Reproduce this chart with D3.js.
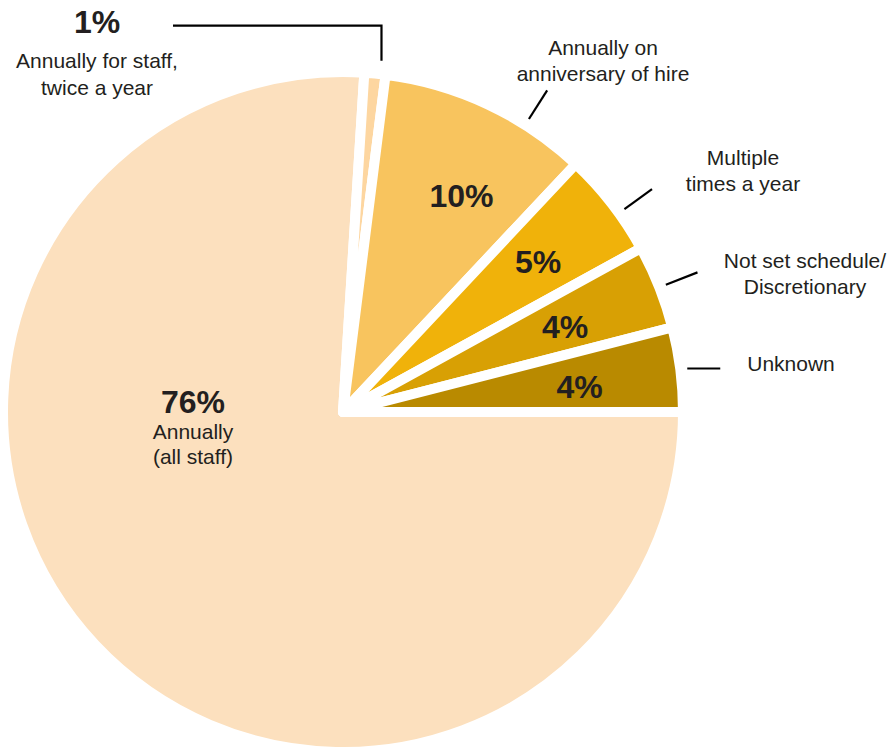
<!DOCTYPE html>
<html>
<head>
<meta charset="utf-8">
<script src="https://cdn.jsdelivr.net/npm/d3@7"></script>
<style>
  html, body { margin: 0; padding: 0; background: #fff; }
  svg { display: block; }
  text { font-family: "Liberation Sans", Arial, sans-serif; fill: #231f20; }
</style>
</head>
<body>
<svg id="chart" width="888" height="747"></svg>
<script>
// Review schedule shares, in percent (clockwise from 3 o'clock)
const categories = [
  "Annually (all staff)",
  "Annually for staff, twice a year",
  "Annually on anniversary of hire",
  "Multiple times a year",
  "Not set schedule/ Discretionary",
  "Unknown"
];
const values = [76, 1, 10, 5, 4, 4];
const valueLabels = ["76%", "1%", "10%", "5%", "4%", "4%"];
const nameLines = [
  ["Annually", "(all staff)"],
  ["Annually for staff,", "twice a year"],
  ["Annually on", "anniversary of hire"],
  ["Multiple", "times a year"],
  ["Not set schedule/", "Discretionary"],
  ["Unknown"]
];
const colors = ["#fce0be", "#fdd6a0", "#f8c45e", "#f0b20a", "#d8a004", "#b98a00"];

const svg = d3.select("#chart");
const cx = 343, cy = 412, R = 340;
const nameSize = 21;

const pie = d3.pie()
  .sort(null)
  .value(d => d)
  .startAngle(Math.PI / 2)
  .endAngle(Math.PI / 2 + 2 * Math.PI);

const arcs = pie(values);
const arc = d3.arc().innerRadius(0).outerRadius(R);

const g = svg.append("g").attr("transform", `translate(${cx},${cy})`);

g.selectAll("path.slice")
  .data(arcs)
  .join("path")
  .attr("class", "slice")
  .attr("d", arc)
  .attr("fill", (d, i) => colors[i])
  .attr("stroke", "#fff")
  .attr("stroke-width", 10)
  .attr("stroke-linejoin", "round");

// polar helper (angle in radians, 0 = 12 o'clock, clockwise)
const polar = (a, r) => [Math.sin(a) * r, -Math.cos(a) * r];
const deg = Math.PI / 180;

// value labels inside the small wedges: [index, angle offset (deg), radius]
const innerLayout = [[2, 3.6, 246], [3, 0.3, 246], [4, 0.6, 238], [5, 1.1, 238]];
innerLayout.forEach(([i, off, r]) => {
  const a = (arcs[i].startAngle + arcs[i].endAngle) / 2 + off * deg;
  const [x, y] = polar(a, r);
  g.append("text")
    .attr("x", x).attr("y", y + 11)
    .attr("text-anchor", "middle")
    .attr("font-size", 32).attr("font-weight", "bold")
    .text(valueLabels[i]);
});

// big slice label
const big = svg.append("g").attr("transform", "translate(193,0)");
big.append("text").attr("y", 413).attr("text-anchor", "middle")
  .attr("font-size", 32).attr("font-weight", "bold").text(valueLabels[0]);
nameLines[0].forEach((t, k) => {
  big.append("text").attr("y", 438.5 + k * 25).attr("text-anchor", "middle")
    .attr("font-size", nameSize).text(t);
});

// outside labels with radial leader lines: [index, leader angle (deg), label x, first baseline]
const outerLayout = [
  [2, 32.4, 603, 55],
  [3, 54.2, 743, 165],
  [4, 68.5, 805, 268],
];
const leader = g.append("g").attr("stroke", "#000").attr("stroke-width", 2.2).attr("fill", "none");
outerLayout.forEach(([i, a, lx, ly]) => {
  const p0 = polar(a * deg, 347), p1 = polar(a * deg, 381);
  leader.append("line").attr("x1", p0[0]).attr("y1", p0[1]).attr("x2", p1[0]).attr("y2", p1[1]);
  nameLines[i].forEach((t, k) => {
    svg.append("text").attr("x", lx).attr("y", ly + k * 25.5)
      .attr("text-anchor", "middle").attr("font-size", nameSize).text(t);
  });
});

// Unknown: horizontal leader
{
  const a = (arcs[5].startAngle + arcs[5].endAngle) / 2;
  const [x0, y0] = polar(a, 347);
  leader.append("line").attr("x1", x0).attr("y1", y0).attr("x2", x0 + 33).attr("y2", y0);
  svg.append("text").attr("x", 791).attr("y", 370.5)
    .attr("text-anchor", "middle").attr("font-size", nameSize).text(nameLines[5][0]);
}

// 1% slice: elbow leader to the label at top-left
{
  const a = (arcs[1].startAngle + arcs[1].endAngle) / 2 + 1.1 * deg;
  const [xe] = polar(a, R);
  const top = -cy + 25.7;
  leader.append("polyline")
    .attr("points", [[173 - cx, top], [xe, top], [xe, 60.7 - cy]].map(p => p.join(",")).join(" "));
  svg.append("text").attr("x", 97).attr("y", 33).attr("text-anchor", "middle")
    .attr("font-size", 32).attr("font-weight", "bold").text(valueLabels[1]);
  nameLines[1].forEach((t, k) => {
    svg.append("text").attr("x", 97).attr("y", 68 + k * 27)
      .attr("text-anchor", "middle").attr("font-size", nameSize).text(t);
  });
}
</script>
</body>
</html>
